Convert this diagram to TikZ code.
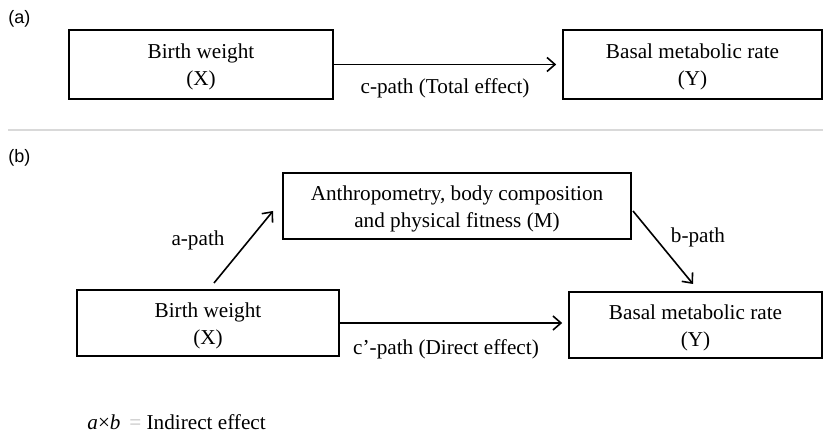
\documentclass[tikz,border=0pt]{standalone}
\usepackage{fontspec}
\setmainfont{Liberation Serif}
\newfontfamily\panelfont{Liberation Sans}
\usetikzlibrary{arrows.meta}
\begin{document}
\begin{tikzpicture}[x=0.5pt,y=-0.5pt,
    box/.style={draw,line width=0.8pt,inner sep=2pt,align=center,text height=23.5pt,
      font=\fontsize{10.6}{13.5}\selectfont},
    lbl/.style={font=\fontsize{10.6}{13.5}\selectfont,inner sep=0pt},
    panel/.style={font=\panelfont\fontsize{9}{11}\selectfont,anchor=west,inner sep=0pt},
    path/.style={-{Straight Barb[length=4pt,width=7pt,line width=0.8pt]},line width=0.8pt}]
      \useasboundingbox (0,0) rectangle (823,432);
      % panel (a)
      \node[panel] (pa) at (8,19) {(a)};
      \node[box,minimum width=132pt,minimum height=34.5pt] (ax) at (201,64.5) {Birth weight\\(X)};
      \node[box,minimum width=129.5pt,minimum height=34.5pt] (ay) at (692.5,64.5) {Basal metabolic rate\\(Y)};
      \node[lbl] (c) at (445,88) {c-path (Total effect)};
      \draw[gray!30,line width=1.2pt] (8,130) -- (823,130);
      % panel (b)
      \node[panel] (pb) at (8,158) {(b)};
      \node[box,minimum width=174pt,minimum height=33pt] (m) at (457,206) {Anthropometry, body composition\\and physical fitness (M)};
      \node[box,minimum width=131pt,minimum height=33pt] (bx) at (208,323) {Birth weight\\(X)};
      \node[box,minimum width=126.5pt,minimum height=33pt] (by) at (695.5,325) {Basal metabolic rate\\(Y)};
      \coordinate (a0) at (214,283);
      \coordinate (a1) at (273,211);
      \coordinate (b0) at (633,211);
      \coordinate (b1) at (693,284);
      \node[lbl] (a) at (198,240) {a-path};
      \node[lbl] (b) at (698,237) {b-path};
      \node[lbl] (cc) at (446,349) {c’-path (Direct effect)};
      \node[lbl,anchor=west] (ab) at (87,422) {\textit{a}×\textit{b}\,\ \textcolor{gray!50}{=}\ Indirect effect};
      \begin{scope}[path]
        \draw[shorten >=3pt] (ax.east) -- (ay.west);
        \draw (a0) -- (a1);
        \draw (b0) -- (b1);
        \draw[shorten >=3pt] (bx.east) -- (bx.east -| by.west);
      \end{scope}
    \end{tikzpicture}
\end{document}
